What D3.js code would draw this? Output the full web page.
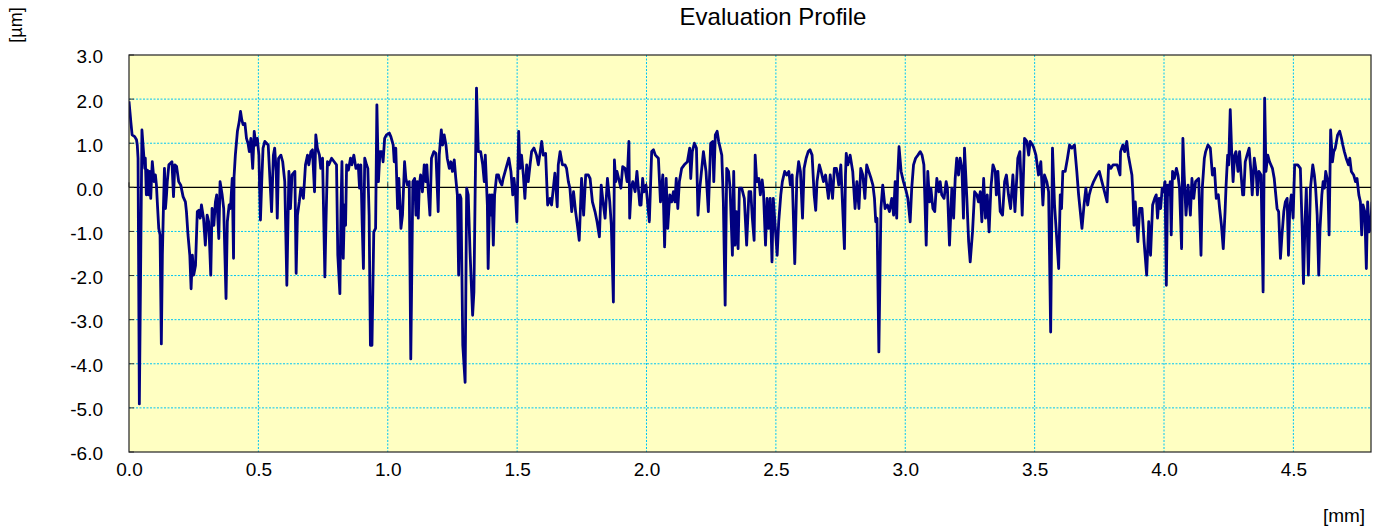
<!DOCTYPE html>
<html><head><meta charset="utf-8">
<script src="https://cdn.jsdelivr.net/npm/d3@7"></script>
<style>body{margin:0;background:#fff}svg text{font-family:"Liberation Sans",Arial,sans-serif;fill:#000}</style>
</head><body>
<svg id="chart" width="1382" height="531"></svg>
<script>
const chartTitle = "Evaluation Profile";
const xUnit = "[mm]";
const yUnit = "[µm]";
const xTicks = [0.0, 0.5, 1.0, 1.5, 2.0, 2.5, 3.0, 3.5, 4.0, 4.5];
const yTicks = [-6, -5, -4, -3, -2, -1, 0, 1, 2, 3];

// profile segments: [position mm, height µm]
const profileA = [[0.000,1.95],[0.007,1.49],[0.012,1.19],[0.022,1.15],[0.029,1.08],[0.032,0.96],[0.035,0.66],[0.040,-4.91],[0.050,1.30],[0.057,0.73],[0.061,0.43],[0.063,0.66],[0.067,-0.17],[0.071,0.39],[0.076,-0.17],[0.080,0.36],[0.084,-0.25],[0.087,0.20],[0.090,0.58],[0.097,0.13],[0.102,0.28],[0.106,0.05],[0.110,-0.40],[0.115,-0.93],[0.120,-1.08],[0.125,-3.55],[0.129,-1.54],[0.133,-0.48],[0.137,0.43],[0.141,-0.48],[0.145,-0.17],[0.148,0.13],[0.154,0.51],[0.161,0.55],[0.166,0.58],[0.172,-0.21],[0.177,0.51],[0.184,0.47],[0.192,0.13],[0.200,0.05],[0.209,-0.21],[0.218,-0.33],[0.222,-0.55],[0.228,-1.08],[0.235,-1.54],[0.240,-2.30],[0.245,-1.54],[0.250,-1.99],[0.257,-1.77],[0.264,-0.55],[0.270,-0.52],[0.275,-0.70],[0.280,-0.40],[0.288,-0.70],[0.295,-1.31],[0.302,-0.63],[0.308,-0.78],[0.316,-1.99],[0.321,-0.48],[0.328,-0.86],[0.334,-0.33],[0.339,-0.17],[0.347,-1.16],[0.352,0.13],[0.360,-0.17],[0.366,-0.48],[0.375,-2.52],[0.380,-0.78],[0.387,-0.40],[0.392,-0.48],[0.399,0.20],[0.404,-1.61],[0.406,0.24],[0.411,0.73],[0.419,1.27],[0.426,1.49],[0.431,1.72],[0.436,1.53],[0.441,1.42],[0.448,1.45],[0.454,1.11],[0.460,1.00],[0.465,0.81],[0.471,1.11],[0.478,0.43],[0.484,1.27],[0.490,0.96],[0.496,1.11],[0.502,0.73],[0.505,-0.02],[0.508,-0.74],[0.513,0.13],[0.518,0.89],[0.525,1.04],[0.538,0.96],[0.551,-0.55],[0.558,0.73],[0.563,0.89],[0.569,0.36],[0.573,-0.70],[0.578,0.66],[0.587,0.73],[0.594,0.58],[0.602,0.13],[0.610,-2.22],[0.618,0.36],[0.624,-0.48],[0.630,0.28],[0.641,0.36],[0.646,-1.95],[0.651,-0.63],[0.658,-0.33],[0.664,-0.02],[0.674,-0.25],[0.682,0.51],[0.690,0.73],[0.695,0.51],[0.703,0.81],[0.709,0.85],[0.717,-0.10],[0.722,1.19],[0.728,0.89],[0.736,0.73],[0.741,0.43],[0.748,0.66],[0.757,-2.03],[0.761,-0.86],[0.767,0.58],[0.772,0.51],[0.783,0.66],[0.793,0.58]];

const profileB = [[0.802,0.51],[0.807,-1.54],[0.815,-2.41],[0.819,-0.55],[0.823,0.58],[0.828,-1.61],[0.833,-0.40],[0.837,-0.86],[0.841,0.51],[0.848,0.39],[0.856,0.66],[0.861,0.51],[0.869,0.73],[0.877,0.43],[0.886,0.51],[0.891,-0.02],[0.896,0.51],[0.901,-0.78],[0.906,-1.84],[0.911,0.66],[0.918,0.51],[0.923,0.43],[0.928,-0.63],[0.933,-3.58],[0.939,-3.58],[0.946,-1.01],[0.953,-0.93],[0.958,1.87],[0.964,0.13],[0.970,0.81],[0.977,0.81],[0.982,0.58],[0.988,1.11],[0.995,1.19],[1.006,1.23],[1.012,1.15],[1.021,0.96],[1.025,0.58],[1.031,0.89],[1.038,-0.48],[1.043,0.20],[1.051,-0.93],[1.057,-0.63],[1.065,0.58],[1.070,0.20],[1.076,0.05],[1.083,0.13],[1.089,-3.89],[1.097,0.13],[1.104,0.20],[1.109,-0.63],[1.114,0.13],[1.118,-0.70],[1.122,0.05],[1.127,0.28],[1.134,-0.10],[1.141,0.51],[1.147,0.13],[1.151,0.51],[1.156,-0.02],[1.163,-0.63],[1.169,0.66],[1.178,0.81],[1.186,0.77],[1.195,-0.55],[1.199,0.73],[1.207,1.30],[1.212,0.96],[1.218,1.19],[1.225,0.96],[1.230,0.66],[1.238,0.43],[1.244,0.58],[1.250,0.36],[1.257,0.62],[1.263,0.20],[1.269,-0.17],[1.274,-1.99],[1.279,-0.17],[1.283,-0.25],[1.290,-3.58],[1.299,-4.42],[1.305,-0.02],[1.311,-0.17],[1.318,-1.46],[1.328,-2.90],[1.333,-2.37],[1.338,-0.02],[1.343,2.25],[1.350,0.81],[1.359,0.81],[1.367,0.51],[1.373,0.13],[1.377,0.73],[1.385,-0.40],[1.388,-1.84],[1.394,-0.17],[1.399,-0.63],[1.403,-0.17],[1.408,-1.31],[1.413,-0.17],[1.421,0.28],[1.428,0.28],[1.434,0.13],[1.441,0.05],[1.446,0.20],[1.457,0.43],[1.468,0.66],[1.476,0.36],[1.483,-0.17],[1.488,0.20],[1.494,-0.17],[1.499,-0.78],[1.506,1.27],[1.511,0.43],[1.517,0.73],[1.524,0.28],[1.530,-0.25],[1.537,0.51],[1.543,0.13],[1.550,0.51],[1.556,0.81],[1.565,0.89],[1.575,0.73],[1.582,0.51]];

const profileC = [[1.595,1.04],[1.601,0.73],[1.610,0.77],[1.618,-0.40],[1.627,-0.25],[1.633,-0.40],[1.640,-0.02],[1.646,0.32],[1.655,-0.44],[1.659,0.51],[1.666,0.81],[1.675,0.51],[1.685,0.51],[1.691,0.43],[1.698,0.13],[1.704,-0.02],[1.711,-0.55],[1.718,-0.10],[1.726,-0.55],[1.733,-0.86],[1.740,-1.20],[1.749,0.20],[1.757,-0.63],[1.765,0.28],[1.775,0.28],[1.782,0.20],[1.791,-0.33],[1.801,-0.55],[1.809,-0.78],[1.818,-1.12],[1.825,0.05],[1.832,-0.33],[1.840,-0.70],[1.849,0.20],[1.858,-0.33],[1.864,-0.86],[1.872,-2.60],[1.876,0.62],[1.881,0.13],[1.886,0.36],[1.901,-0.02],[1.908,0.47],[1.917,0.43],[1.925,0.13],[1.932,1.04],[1.935,-0.70],[1.941,-0.02],[1.947,0.13],[1.956,-0.10],[1.963,0.36],[1.974,-0.40],[1.979,-0.40],[1.985,0.20],[1.990,-0.10],[1.998,0.05],[2.011,-0.78],[2.020,0.81],[2.027,0.85],[2.034,0.73],[2.046,0.66],[2.054,-0.33],[2.063,0.28],[2.070,-1.35],[2.076,0.20],[2.082,-0.93],[2.090,-0.17],[2.097,-0.33],[2.104,-0.10],[2.110,-0.33],[2.115,0.20],[2.121,-0.48],[2.127,0.13],[2.136,0.43],[2.146,0.51],[2.158,0.58],[2.167,0.89],[2.171,0.20],[2.177,0.81],[2.185,1.00],[2.193,0.89],[2.199,-0.63],[2.206,-0.02],[2.220,0.81],[2.230,0.36],[2.239,-0.55],[2.248,1.00],[2.256,1.04],[2.260,0.13],[2.266,1.19],[2.273,1.27],[2.279,1.04],[2.291,0.73],[2.297,-0.33],[2.304,-2.67],[2.310,0.43],[2.317,0.36],[2.323,-0.02],[2.332,-1.54],[2.337,0.36],[2.342,-1.31],[2.347,-0.55],[2.354,-1.39],[2.359,-0.02],[2.368,-0.02],[2.378,-0.25]];

const profileD = [[2.387,-1.31],[2.396,-0.10],[2.403,-0.10],[2.409,-0.70],[2.416,-1.20],[2.420,0.73],[2.426,0.13],[2.434,0.20],[2.440,-0.17],[2.447,0.17],[2.452,-0.10],[2.460,-1.31],[2.466,-0.25],[2.472,-0.93],[2.478,-0.25],[2.485,-1.69],[2.490,-0.25],[2.505,-1.54],[2.511,-0.78],[2.519,-0.17],[2.525,0.13],[2.534,0.36],[2.542,0.28],[2.550,0.36],[2.556,0.05],[2.563,0.28],[2.573,-1.73],[2.581,0.20],[2.588,0.58],[2.595,0.36],[2.603,-0.70],[2.609,0.43],[2.617,0.66],[2.625,0.81],[2.632,0.85],[2.640,0.73],[2.648,-0.17],[2.654,-0.52],[2.659,0.13],[2.668,0.51],[2.675,0.36],[2.684,0.13],[2.692,0.28],[2.703,-0.25],[2.710,0.28],[2.719,-0.25],[2.726,0.43],[2.734,0.43],[2.743,0.05],[2.751,0.51],[2.765,-1.39],[2.769,0.28],[2.772,0.77],[2.778,0.51],[2.787,0.73],[2.797,0.36],[2.806,-0.48],[2.813,0.13],[2.821,-0.48],[2.828,0.43],[2.836,0.28],[2.844,-0.25],[2.851,0.51],[2.859,0.36],[2.868,0.20],[2.875,0.05],[2.881,-0.25],[2.886,-0.78],[2.891,-0.70],[2.898,-3.73],[2.906,-0.48],[2.913,0.05],[2.922,-0.48],[2.931,-0.40],[2.939,-0.55],[2.948,-0.25],[2.955,-0.63],[2.961,0.13],[2.967,-0.70],[2.971,0.28],[2.976,0.92],[2.984,0.36],[2.993,0.13],[3.004,-0.10],[3.010,-0.25],[3.019,-0.78],[3.025,-0.02],[3.032,0.51],[3.040,0.66],[3.049,0.73],[3.058,0.81],[3.065,0.73],[3.072,0.51],[3.081,-1.31],[3.087,0.36],[3.094,-0.33],[3.099,-0.02],[3.107,-0.48],[3.114,-0.55],[3.122,0.20],[3.130,-0.10],[3.135,0.13],[3.141,-0.17],[3.150,-0.25],[3.158,0.13],[3.163,-0.02],[3.171,-1.31]];

const profileE = [[3.180,-0.02],[3.187,-0.70],[3.193,0.20],[3.199,0.66],[3.206,0.28],[3.212,0.66],[3.219,0.43],[3.225,-0.70],[3.229,0.89],[3.238,-0.25],[3.245,-1.23],[3.251,-1.69],[3.260,-1.01],[3.268,-0.10],[3.277,-0.17],[3.283,-0.33],[3.290,-0.10],[3.296,-0.78],[3.303,0.20],[3.310,-0.70],[3.317,-0.17],[3.324,-1.01],[3.331,-0.02],[3.339,0.51],[3.348,0.36],[3.352,-0.17],[3.358,0.36],[3.367,-0.55],[3.376,-0.63],[3.384,0.13],[3.391,0.28],[3.399,-0.17],[3.407,-0.48],[3.416,0.28],[3.424,-0.55],[3.435,0.66],[3.443,0.81],[3.452,-0.63],[3.461,1.11],[3.470,1.04],[3.477,0.73],[3.483,1.04],[3.492,0.96],[3.497,0.89],[3.505,0.73],[3.515,0.28],[3.524,0.58],[3.532,-0.40],[3.538,0.28],[3.547,0.13],[3.554,-0.10],[3.562,-3.28],[3.569,0.89],[3.577,-0.40],[3.593,-1.84],[3.599,-0.17],[3.604,-0.48],[3.609,0.36],[3.618,0.36],[3.627,0.66],[3.635,0.96],[3.644,0.89],[3.654,0.96],[3.663,0.36],[3.670,-0.17],[3.683,-0.93],[3.691,-0.40],[3.698,-0.02],[3.705,-0.40],[3.711,-0.17],[3.718,-0.02],[3.728,0.13],[3.741,0.28],[3.750,0.36],[3.760,0.13],[3.780,-0.33],[3.786,0.51],[3.795,0.43],[3.803,0.51],[3.812,0.51],[3.819,0.51],[3.830,0.28],[3.832,0.81],[3.841,0.96],[3.848,0.81],[3.856,1.04],[3.862,0.73],[3.876,0.28],[3.880,-0.17],[3.884,-0.86],[3.889,-0.33],[3.899,-1.23],[3.906,-0.48],[3.915,-0.48],[3.923,-1.23],[3.933,-1.99],[3.941,-0.78],[3.948,-1.54],[3.956,-0.40],[3.964,-0.25]];

const profileF = [[3.970,-0.17],[3.975,-0.70],[3.981,-0.25],[3.987,-0.48],[3.993,-0.02],[3.999,-0.10],[4.004,0.13],[4.009,-2.22],[4.014,0.05],[4.019,-0.17],[4.024,0.13],[4.028,-1.08],[4.033,0.36],[4.040,0.20],[4.048,0.43],[4.054,0.28],[4.060,-0.02],[4.068,-1.39],[4.073,1.11],[4.078,0.28],[4.085,-0.63],[4.093,0.05],[4.102,-0.63],[4.108,0.20],[4.115,-0.25],[4.122,0.13],[4.134,0.20],[4.143,-1.54],[4.148,-0.02],[4.156,0.66],[4.161,0.81],[4.170,0.96],[4.179,0.89],[4.187,0.28],[4.195,0.43],[4.202,-0.25],[4.210,-0.17],[4.215,-0.48],[4.222,-0.86],[4.229,-1.39],[4.236,-0.55],[4.240,0.05],[4.246,0.73],[4.250,0.51],[4.256,1.76],[4.262,0.73],[4.267,0.13],[4.273,0.73],[4.278,0.81],[4.286,0.36],[4.292,0.81],[4.298,0.28],[4.304,-0.17],[4.308,-0.17],[4.314,0.58],[4.321,0.73],[4.329,0.89],[4.336,0.36],[4.341,-0.17],[4.349,0.66],[4.356,0.36],[4.361,-0.17],[4.367,0.36],[4.375,0.28],[4.383,-2.37],[4.389,2.02],[4.394,0.36],[4.401,0.73],[4.408,0.58],[4.419,0.43],[4.426,0.20],[4.437,-0.48],[4.443,-0.55],[4.450,-1.61],[4.456,-1.08],[4.463,-0.55],[4.469,-0.33],[4.476,-0.25],[4.481,-1.54],[4.486,-0.48],[4.492,-0.17],[4.499,-0.70],[4.505,0.51],[4.517,0.51],[4.527,0.43],[4.534,-0.93],[4.539,-2.18],[4.545,-0.78],[4.550,-0.02],[4.558,-1.99],[4.566,-0.02],[4.575,0.51],[4.581,0.28],[4.586,-0.02],[4.592,-0.63],[4.598,-1.99],[4.603,-0.93],[4.610,-0.17],[4.615,0.13],[4.620,-0.02],[4.625,0.36],[4.633,0.13],[4.638,-1.08],[4.644,1.30],[4.651,0.58],[4.656,0.81],[4.662,0.89],[4.671,1.19],[4.679,1.27],[4.686,1.11],[4.691,0.96],[4.697,0.81],[4.704,0.66],[4.713,0.51],[4.718,0.66],[4.724,0.36],[4.733,0.28],[4.740,0.13],[4.746,0.20],[4.753,-0.17],[4.759,-0.33],[4.764,-1.08],[4.769,-0.40],[4.776,-0.55],[4.782,-1.84],[4.787,-0.33],[4.793,-1.01],[4.798,-0.93],[4.804,-0.33]];

const profile = [].concat(profileA, profileB, profileC, profileD, profileE, profileF);

const svg = d3.select("#chart");
const L = 129, R = 1371, T = 55, B = 452;
const x = d3.scaleLinear().domain([0, 4.8]).range([L, R]);
const y = d3.scaleLinear().domain([-6, 3]).range([B, T]);

svg.append("rect").attr("x", L).attr("y", T).attr("width", R - L).attr("height", B - T).attr("fill", "#FFFFC2");

// grid
svg.append("g").selectAll("line").data(xTicks.filter(d => d > 0)).join("line")
  .attr("x1", d => x(d)).attr("x2", d => x(d)).attr("y1", T).attr("y2", B)
  .attr("stroke", "#00C4F4").attr("stroke-width", 1).attr("stroke-dasharray", "2,1.5");
svg.append("g").selectAll("line").data(yTicks.filter(d => d !== 0 && d > -6 && d < 3)).join("line")
  .attr("x1", L).attr("x2", R).attr("y1", d => y(d)).attr("y2", d => y(d))
  .attr("stroke", "#00C4F4").attr("stroke-width", 1).attr("stroke-dasharray", "2,1.5");

// zero line
svg.append("line").attr("x1", L).attr("x2", R).attr("y1", y(0)).attr("y2", y(0))
  .attr("stroke", "#000").attr("stroke-width", 1.3);

// small tick marks
svg.append("g").selectAll("line").data(yTicks).join("line")
  .attr("x1", L).attr("x2", L + 5).attr("y1", d => y(d)).attr("y2", d => y(d))
  .attr("stroke", "#333").attr("stroke-width", 1);
svg.append("g").selectAll("line").data(xTicks).join("line")
  .attr("x1", d => x(d)).attr("x2", d => x(d)).attr("y1", y(0)).attr("y2", y(0) - 5)
  .attr("stroke", "#333").attr("stroke-width", 1);

// profile line
svg.append("clipPath").attr("id", "clip").append("rect")
  .attr("x", L).attr("y", T).attr("width", R - L).attr("height", B - T);
svg.append("path").datum(profile)
  .attr("clip-path", "url(#clip)")
  .attr("fill", "none").attr("stroke", "#000080").attr("stroke-width", 2.8)
  .attr("stroke-linejoin", "round")
  .attr("d", d3.line().x(d => x(d[0])).y(d => y(d[1])));

// border
svg.append("rect").attr("x", L).attr("y", T).attr("width", R - L).attr("height", B - T)
  .attr("fill", "none").attr("stroke", "#222").attr("stroke-width", 1.2);

// axes labels
const fmt = d => d.toFixed(1);
const ay = svg.append("g").attr("transform", `translate(${L},0)`)
  .call(d3.axisLeft(y).tickValues(yTicks).tickFormat(fmt).tickSize(0).tickPadding(26));
ay.select(".domain").remove();
ay.selectAll("text").attr("font-size", 19).attr("dy", "0.42em").style("font-family", '"Liberation Sans", Arial, sans-serif');

const ax = svg.append("g").attr("transform", `translate(0,${B})`)
  .call(d3.axisBottom(x).tickValues(xTicks).tickFormat(fmt).tickSize(0).tickPadding(11));
ax.select(".domain").remove();
ax.selectAll("text").attr("font-size", 19).style("font-family", '"Liberation Sans", Arial, sans-serif');

svg.append("text").attr("x", 773).attr("y", 25).attr("text-anchor", "middle")
  .attr("font-size", 24).text(chartTitle);
svg.append("text").attr("transform", "translate(22,25) rotate(-90)").attr("text-anchor", "middle")
  .attr("font-size", 18).text(yUnit);
svg.append("text").attr("x", 1344).attr("y", 522).attr("text-anchor", "middle")
  .attr("font-size", 19).text(xUnit);
</script>
</body></html>
